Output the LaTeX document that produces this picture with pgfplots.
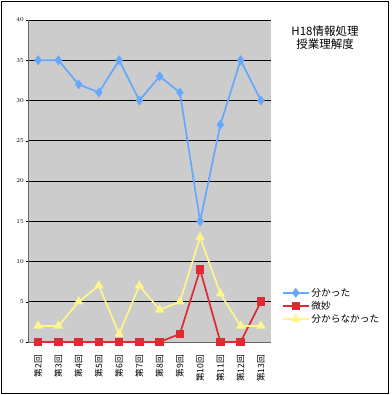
\documentclass[border=0pt]{standalone}
\usepackage{pgfplots}
\pgfplotsset{compat=1.18}
\usepackage{fontspec}
\setmainfont{Liberation Sans}
\newfontfamily\cjk{Noto Sans CJK JP}
\definecolor{bgray}{HTML}{CCCCCC}
\definecolor{sblue}{HTML}{66A8FF}
\definecolor{sred}{HTML}{DD2A33}
\definecolor{syellow}{HTML}{FFF58A}
\begin{document}
\begin{tikzpicture}[x=1pt,y=1pt]
\begin{axis}[
  name=ax,
  at={(0,0)}, anchor=south west,
  scale only axis, width=243pt, height=322pt,
  xmin=-0.5, xmax=11.5, ymin=0, ymax=40,
  axis background/.style={fill=bgray},
  axis line style={gray!80!black},
  axis x line*=bottom, axis y line*=left,
  xtick={0,...,11},
  xticklabels={第2回,第3回,第4回,第5回,第6回,第7回,第8回,第9回,第10回,第11回,第12回,第13回},
  x tick label style={rotate=90, anchor=east, font=\cjk\fontsize{8.6}{9}\selectfont, inner sep=0pt, xshift=-11pt},
  extra x ticks={-0.5,0.5,...,11.5},
  extra x tick labels={},
  extra x tick style={major tick length=3pt, tick style={black}, tick align=outside, grid=none},
  major x tick style={draw=none},
  ytick={0,5,...,40},
  y tick label style={font=\fontsize{6.5}{7}\selectfont, inner sep=2pt},
  ymajorgrids, major grid style={black, line width=0.8pt},
  major y tick style={black},
  tick align=outside, major tick length=2pt,
  legend style={draw=none, fill=none, at={(1.045,0.112)}, anchor=west,
    font=\cjk\fontsize{9.7}{10}\selectfont, row sep=-0.5pt, inner sep=0pt},
  legend cell align=left,
  legend image code/.code={
    \draw[mark repeat=2,mark phase=2,#1] plot coordinates {(0cm,0cm) (0.45cm,0cm) (0.9cm,0cm)};},
  clip=false,
]
\addplot[sblue, line width=1.7pt, mark=diamond*, mark size=3.6pt, mark options={fill=sblue}]
  coordinates {(0,35)(1,35)(2,32)(3,31)(4,35)(5,30)(6,33)(7,31)(8,15)(9,27)(10,35)(11,30)};
\addlegendentry{分かった}
\addplot[sred, line width=1.7pt, mark=square*, mark size=3.4pt, mark options={fill=sred}]
  coordinates {(0,0)(1,0)(2,0)(3,0)(4,0)(5,0)(6,0)(7,1)(8,9)(9,0)(10,0)(11,5)};
\addlegendentry{微妙}
\addplot[syellow, line width=1.7pt, mark=triangle*, mark size=3.8pt, mark options={fill=syellow}]
  coordinates {(0,2)(1,2)(2,5)(3,7)(4,1)(5,7)(6,4)(7,5)(8,13)(9,6)(10,2)(11,2)};
\addlegendentry{分からなかった}
\end{axis}
\draw[black, line width=0.8pt] ([shift={(-27pt,-51pt)}]ax.south west) rectangle ([shift={(117pt,19pt)}]ax.north east);
\node[font=\cjk\fontsize{11.5}{13}\selectfont, align=center, anchor=north, inner sep=0pt] at ([shift={(54pt,-6pt)}]ax.north east) {H18情報処理\\授業理解度};
\useasboundingbox ([shift={(-28pt,-53pt)}]ax.south west) rectangle ([shift={(120pt,20pt)}]ax.north east);
\end{tikzpicture}
\end{document}
